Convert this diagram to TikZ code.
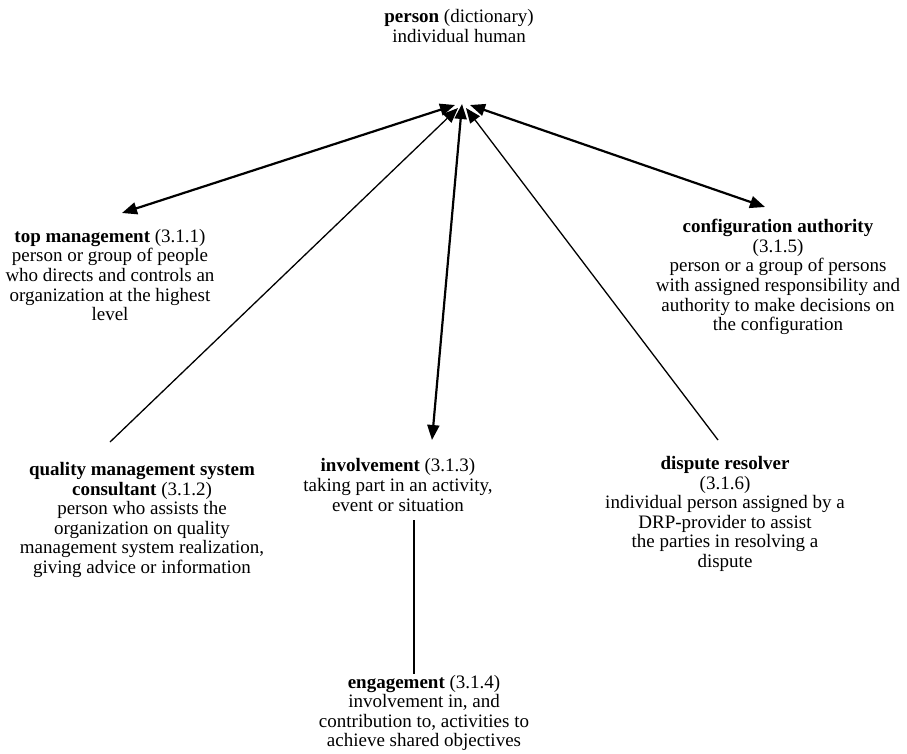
\documentclass[tikz,border=0pt]{standalone}
\usepackage{fontspec}
\setmainfont{Liberation Serif}
\usetikzlibrary{arrows.meta}

\tikzset{
  term/.style={align=center, inner sep=0pt, font=\fontsize{19}{19.6}\selectfont},
  heavy/.style={line width=2.2pt},
  light/.style={line width=1.3pt},
  tip/.tip={Triangle[length=15pt,width=12pt]}
}

\begin{document}
\begin{tikzpicture}[x=1pt,y=-1pt]
\useasboundingbox (0,0) rectangle (907,753);

% concept boxes
\node[term] (person) at (459,26) {\textbf{person} (dictionary)\\individual human};
\node[term] (topmgmt) at (110,275) {\textbf{top management} (3.1.1)\\person or group of people\\who directs and controls an\\organization at the highest\\level};
\node[term] (config) at (778,277) {\textbf{configuration authority}\\(3.1.5)\\person or a group of persons\\with assigned responsibility and\\authority to make decisions on\\the configuration};
\node[term] (qms) at (142,520) {\textbf{quality management system}\\\textbf{consultant} (3.1.2)\\person who assists the\\organization on quality\\management system realization,\\giving advice or information};
\node[term] (invol) at (398,485) {\textbf{involvement} (3.1.3)\\taking part in an activity,\\event or situation};
\node[term] (dispute) at (725,514) {\textbf{dispute resolver}\\(3.1.6)\\individual person assigned by a\\DRP-provider to assist\\the parties in resolving a\\dispute};
\node[term] (engage) at (424,713) {\textbf{engagement} (3.1.4)\\involvement in, and\\contribution to, activities to\\achieve shared objectives};

% meeting points under the top concept
\coordinate (hubL)  at (455,105);
\coordinate (hubQ)  at (458,108);
\coordinate (hubC)  at (462,104);
\coordinate (hubD)  at (466,108);
\coordinate (hubR)  at (470,105);

% outer ends of the connectors
\coordinate (tmEnd)  at (122,213);
\coordinate (qmsEnd) at (110,442);
\coordinate (invEnd) at (432,440);
\coordinate (disEnd) at (718,440);
\coordinate (cfgEnd) at (765,207);
\coordinate (engTop) at (414,520);
\coordinate (engBot) at (414,674);

% connectors
\draw[heavy, {tip}-{tip}] (tmEnd) -- (hubL);
\draw[light, -{tip}] (qmsEnd) -- (hubQ);
\draw[heavy, {tip}-{tip}] (invEnd) -- (hubC);
\draw[light, -{tip}] (disEnd) -- (hubD);
\draw[heavy, {tip}-{tip}] (cfgEnd) -- (hubR);
\draw[light] (engTop) -- (engBot);
\end{tikzpicture}
\end{document}
